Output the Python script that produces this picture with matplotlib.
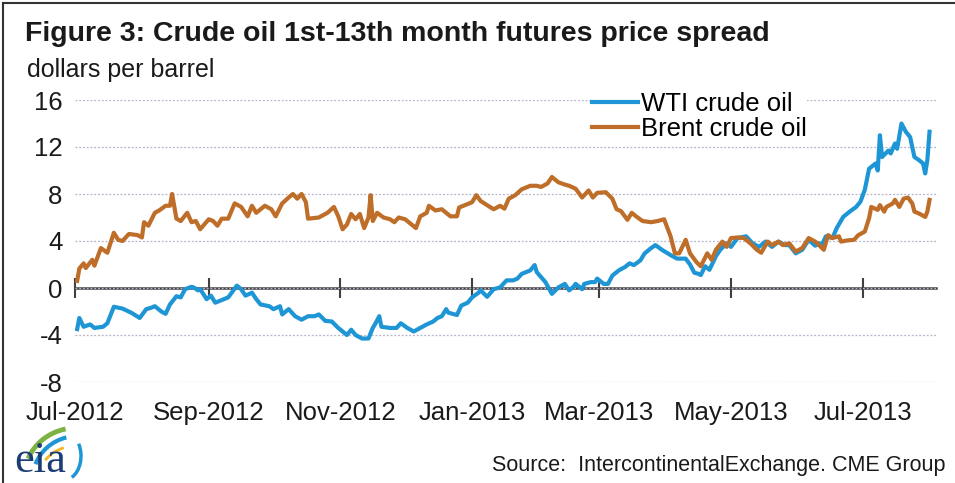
"""
Figure 3: Crude oil 1st-13th month futures price spread (EIA style).
"""

import matplotlib
matplotlib.use("Agg")
import matplotlib.pyplot as plt
import pandas as pd
from matplotlib.lines import Line2D
from matplotlib.patches import Arc


plt.rcParams["font.family"] = ["Liberation Sans", "DejaVu Sans"]
plt.rcParams["axes.unicode_minus"] = False

TITLE = "Figure 3: Crude oil 1st-13th month futures price spread"
UNITS = "dollars per barrel"
SOURCE = "Source:  IntercontinentalExchange. CME Group"

WTI_COLOR = "#1e96d6"
BRENT_COLOR = "#be6e28"

Y_TICKS = [-8, -4, 0, 4, 8, 12, 16]
X_TICKS = ["2012-07-01", "2012-09-01", "2012-11-01", "2013-01-01",
           "2013-03-01", "2013-05-01", "2013-07-01"]
X_LABELS = ["Jul-2012", "Sep-2012", "Nov-2012", "Jan-2013",
            "Mar-2013", "May-2013", "Jul-2013"]

# Brent 1st-13th month spread
brent_dates = [
    "2012-07-02", "2012-07-03", "2012-07-05", "2012-07-06", "2012-07-09", "2012-07-10",
    "2012-07-13", "2012-07-16", "2012-07-19", "2012-07-21", "2012-07-23", "2012-07-26",
    "2012-07-30", "2012-08-01", "2012-08-02", "2012-08-04", "2012-08-07", "2012-08-09",
    "2012-08-12", "2012-08-14", "2012-08-15", "2012-08-17", "2012-08-19", "2012-08-22",
    "2012-08-24", "2012-08-26", "2012-08-28", "2012-09-01", "2012-09-03", "2012-09-05",
    "2012-09-07", "2012-09-10", "2012-09-13", "2012-09-16", "2012-09-19", "2012-09-21",
    "2012-09-23", "2012-09-27", "2012-09-30", "2012-10-02", "2012-10-05", "2012-10-08",
    "2012-10-10", "2012-10-12", "2012-10-14", "2012-10-16", "2012-10-17", "2012-10-22",
    "2012-10-26", "2012-10-29", "2012-10-31", "2012-11-02", "2012-11-04", "2012-11-06",
    "2012-11-08", "2012-11-10", "2012-11-12", "2012-11-14", "2012-11-15", "2012-11-16",
    "2012-11-18", "2012-11-21", "2012-11-24", "2012-11-26", "2012-11-28", "2012-12-01",
    "2012-12-03", "2012-12-06", "2012-12-08", "2012-12-11", "2012-12-12", "2012-12-15",
    "2012-12-18", "2012-12-20", "2012-12-22", "2012-12-25", "2012-12-26", "2012-12-30",
    "2013-01-01", "2013-01-03", "2013-01-05", "2013-01-08", "2013-01-11", "2013-01-14",
    "2013-01-16", "2013-01-18", "2013-01-21", "2013-01-24", "2013-01-28", "2013-01-31",
    "2013-02-02", "2013-02-05", "2013-02-07", "2013-02-10", "2013-02-13", "2013-02-15",
    "2013-02-18", "2013-02-21", "2013-02-24", "2013-02-26", "2013-02-28", "2013-03-04",
    "2013-03-07", "2013-03-09", "2013-03-11", "2013-03-14", "2013-03-16", "2013-03-18",
    "2013-03-21", "2013-03-25", "2013-03-28", "2013-03-31", "2013-04-03", "2013-04-05",
    "2013-04-07", "2013-04-10", "2013-04-12", "2013-04-15", "2013-04-17", "2013-04-20",
    "2013-04-22", "2013-04-24", "2013-04-27", "2013-04-29", "2013-05-01", "2013-05-04",
    "2013-05-07", "2013-05-10", "2013-05-13", "2013-05-15", "2013-05-18", "2013-05-20",
    "2013-05-23", "2013-05-25", "2013-05-28", "2013-05-31", "2013-06-03", "2013-06-06",
    "2013-06-09", "2013-06-10", "2013-06-13", "2013-06-15", "2013-06-17", "2013-06-20",
    "2013-06-21", "2013-06-24", "2013-06-27", "2013-06-29", "2013-07-02", "2013-07-04",
    "2013-07-05", "2013-07-08", "2013-07-09", "2013-07-11", "2013-07-12", "2013-07-15",
    "2013-07-16", "2013-07-18", "2013-07-20", "2013-07-22", "2013-07-24", "2013-07-25",
    "2013-07-27", "2013-07-30", "2013-07-31", "2013-08-01",
]
brent_values = [
    0.6, 1.65, 2.1, 1.7, 2.4, 1.9,
    3.4, 3.0, 4.7, 4.1, 4.0, 4.6,
    4.5, 4.3, 5.6, 5.3, 6.4, 6.6,
    7.0, 7.0, 8.0, 5.9, 5.7, 6.4,
    5.6, 5.7, 5.0, 5.85, 5.7, 5.3,
    5.9, 5.9, 7.2, 6.9, 6.1, 7.0,
    6.4, 7.0, 6.7, 6.1, 7.2, 7.7,
    8.0, 7.6, 8.0, 7.3, 5.9, 6.0,
    6.4, 6.9, 6.1, 5.0, 5.4, 6.3,
    5.85, 6.3, 5.1, 6.0, 7.9, 5.7,
    6.4, 6.0, 5.85, 5.6, 6.0, 5.85,
    5.55, 5.1, 6.1, 6.4, 7.0, 6.6,
    6.7, 6.4, 6.1, 6.1, 6.85, 7.15,
    7.3, 7.9, 7.4, 7.05, 6.7, 7.0,
    6.75, 7.6, 7.9, 8.4, 8.7, 8.7,
    8.6, 8.9, 9.45, 9.0, 8.8, 8.7,
    8.45, 7.7, 8.3, 7.7, 8.1, 8.15,
    7.6, 6.7, 6.55, 5.8, 6.4, 6.1,
    5.7, 5.6, 5.7, 5.85, 4.4, 2.95,
    2.95, 4.1, 2.95, 2.2, 1.85, 2.95,
    2.4, 3.25, 3.95, 3.5, 4.25, 4.3,
    4.25, 3.8, 3.25, 3.0, 3.95, 3.65,
    3.95, 3.65, 3.8, 3.1, 3.4, 4.25,
    3.95, 3.8, 3.25, 4.5, 4.25, 4.4,
    3.95, 4.05, 4.1, 4.5, 4.8, 5.95,
    6.9, 6.65, 7.05, 6.5, 6.9, 7.2,
    7.5, 6.9, 7.6, 7.7, 7.2, 6.5,
    6.35, 6.05, 6.5, 7.5,
]

# WTI 1st-13th month spread
wti_dates = [
    "2012-07-02", "2012-07-03", "2012-07-05", "2012-07-08", "2012-07-10", "2012-07-14",
    "2012-07-16", "2012-07-19", "2012-07-23", "2012-07-27", "2012-07-31", "2012-08-03",
    "2012-08-05", "2012-08-07", "2012-08-10", "2012-08-12", "2012-08-14", "2012-08-17",
    "2012-08-19", "2012-08-21", "2012-08-24", "2012-08-25", "2012-08-27", "2012-08-28",
    "2012-08-31", "2012-09-02", "2012-09-04", "2012-09-08", "2012-09-10", "2012-09-14",
    "2012-09-16", "2012-09-18", "2012-09-21", "2012-09-23", "2012-09-25", "2012-09-29",
    "2012-10-01", "2012-10-04", "2012-10-05", "2012-10-08", "2012-10-11", "2012-10-14",
    "2012-10-17", "2012-10-20", "2012-10-22", "2012-10-25", "2012-10-28", "2012-10-31",
    "2012-11-04", "2012-11-06", "2012-11-08", "2012-11-11", "2012-11-14", "2012-11-16",
    "2012-11-17", "2012-11-19", "2012-11-20", "2012-11-24", "2012-11-27", "2012-11-29",
    "2012-12-02", "2012-12-05", "2012-12-08", "2012-12-11", "2012-12-14", "2012-12-16",
    "2012-12-18", "2012-12-20", "2012-12-21", "2012-12-25", "2012-12-27", "2012-12-30",
    "2013-01-01", "2013-01-04", "2013-01-05", "2013-01-08", "2013-01-11", "2013-01-14",
    "2013-01-17", "2013-01-20", "2013-01-22", "2013-01-24", "2013-01-28", "2013-01-30",
    "2013-01-31", "2013-02-04", "2013-02-07", "2013-02-10", "2013-02-13", "2013-02-15",
    "2013-02-17", "2013-02-18", "2013-02-21", "2013-02-22", "2013-02-25", "2013-02-27",
    "2013-02-28", "2013-03-03", "2013-03-05", "2013-03-07", "2013-03-10", "2013-03-13",
    "2013-03-15", "2013-03-17", "2013-03-20", "2013-03-22", "2013-03-25", "2013-03-27",
    "2013-03-30", "2013-04-03", "2013-04-06", "2013-04-10", "2013-04-12", "2013-04-14",
    "2013-04-16", "2013-04-17", "2013-04-19", "2013-04-21", "2013-04-24", "2013-04-26",
    "2013-04-29", "2013-05-01", "2013-05-04", "2013-05-08", "2013-05-11", "2013-05-14",
    "2013-05-17", "2013-05-20", "2013-05-23", "2013-05-26", "2013-05-28", "2013-05-31",
    "2013-06-03", "2013-06-06", "2013-06-09", "2013-06-11", "2013-06-12", "2013-06-14",
    "2013-06-17", "2013-06-19", "2013-06-22", "2013-06-25", "2013-06-28", "2013-06-30",
    "2013-07-02", "2013-07-04", "2013-07-07", "2013-07-08", "2013-07-09", "2013-07-10",
    "2013-07-13", "2013-07-14", "2013-07-16", "2013-07-17", "2013-07-19", "2013-07-21",
    "2013-07-23", "2013-07-25", "2013-07-27", "2013-07-29", "2013-07-30", "2013-07-31",
    "2013-08-01",
]
wti_values = [
    -3.5, -2.55, -3.3, -3.1, -3.4, -3.3,
    -3.0, -1.6, -1.75, -2.1, -2.55, -1.8,
    -1.7, -1.55, -2.0, -2.2, -1.4, -0.7,
    -0.8, -0.1, 0.1, 0.05, -0.2, -0.1,
    -0.95, -0.65, -1.25, -0.95, -0.8, 0.2,
    -0.1, -0.65, -0.4, -0.95, -1.4, -1.55,
    -1.8, -1.55, -2.25, -1.8, -2.4, -2.7,
    -2.4, -2.4, -2.25, -2.8, -2.85, -3.4,
    -4.0, -3.55, -4.0, -4.3, -4.3, -3.4,
    -3.1, -2.4, -3.3, -3.4, -3.4, -3.0,
    -3.4, -3.7, -3.4, -3.1, -2.85, -2.55,
    -2.4, -1.8, -2.1, -2.3, -1.5, -1.25,
    -0.8, -0.4, -0.2, -0.75, -0.1, 0.05,
    0.65, 0.65, 0.8, 1.2, 1.5, 1.95,
    1.35, 0.5, -0.5, 0.05, 0.35, -0.2,
    0.1, 0.35, -0.1, 0.35, 0.5, 0.5,
    0.8, 0.35, 0.35, 1.05, 1.5, 1.8,
    2.1, 1.95, 2.35, 2.95, 3.4, 3.65,
    3.25, 2.8, 2.5, 2.5, 2.0, 1.3,
    1.2, 1.1, 1.85, 1.55, 2.7, 3.25,
    3.8, 3.5, 4.25, 4.4, 3.8, 3.5,
    3.95, 3.5, 3.95, 3.65, 3.65, 2.95,
    3.25, 4.1, 3.6, 3.8, 3.65, 4.4,
    4.25, 5.1, 6.05, 6.5, 6.9, 7.35,
    8.35, 10.15, 10.6, 10.0, 13.0, 11.15,
    11.7, 11.45, 12.3, 11.85, 14.0, 13.3,
    12.85, 11.15, 10.9, 10.6, 9.75, 10.9,
    13.3,
]


def px(x, y, w=0, h=0, fig_w=955, fig_h=483):
    """Convert a top-left pixel box to figure fractions."""
    return [x / fig_w, 1 - (y + h) / fig_h, w / fig_w, h / fig_h]


fig = plt.figure(figsize=(9.55, 4.83), dpi=100)
fig.patch.set_facecolor("white")

ax = fig.add_axes(px(75, 100, 861, 282))
ax.set_ylim(-8, 16)
ax.set_xlim(pd.Timestamp("2012-07-01"), pd.Timestamp("2013-08-04"))

ax.plot(pd.to_datetime(wti_dates), wti_values, color=WTI_COLOR, lw=3,
        solid_joinstyle="round", label="WTI crude oil", zorder=3)
ax.plot(pd.to_datetime(brent_dates), brent_values, color=BRENT_COLOR, lw=3,
        solid_joinstyle="round", label="Brent crude oil", zorder=4)

for side in ["top", "right", "left", "bottom"]:
    ax.spines[side].set_visible(False)

ax.set_yticks(Y_TICKS)
ax.set_yticklabels([str(v) for v in Y_TICKS])
ax.tick_params(axis="y", length=0, pad=9, labelsize=18.5, labelcolor="#1a1a1a")
ax.yaxis.grid(True, linestyle=(0, (1.5, 1.5)), color="#b4b4cc", lw=0.9)
ax.set_axisbelow(True)

tick_dates = pd.to_datetime(X_TICKS)
ax.set_xticks(tick_dates)
ax.set_xticklabels(X_LABELS)
ax.tick_params(axis="x", length=0, pad=14, labelsize=18.5, labelcolor="#1a1a1a")

# zero line with the month ticks crossing it
zero = ax.secondary_xaxis(8 / 24)
zero.set_xticks(tick_dates)
zero.tick_params(axis="x", direction="inout", length=14, width=1.5,
                 color="#404040", labelbottom=False)
zero.spines["bottom"].set_color("#404040")
zero.spines["bottom"].set_linewidth(1.8)

leg = ax.legend(loc="upper left", bbox_to_anchor=(592 / 955, 1 - 92 / 483),
                bbox_transform=fig.transFigure, frameon=True, fontsize=18.5,
                handlelength=1.8, handletextpad=0.1, labelspacing=0.05,
                borderpad=0.0, borderaxespad=0.0)
leg.get_frame().set_facecolor("white")
leg.get_frame().set_edgecolor("none")
leg.get_frame().set_alpha(1)

fig.text(25 / 955, 1 - 34 / 483, TITLE, fontsize=20.5, fontweight="bold",
         color="#1a1a1a", va="center", ha="left")
fig.text(27 / 955, 1 - 70 / 483, UNITS, fontsize=18, color="#1a1a1a",
         va="center", ha="left")
fig.text(945 / 955, 1 - 466 / 483, SOURCE, fontsize=15.5, color="#1a1a1a",
         va="center", ha="right")

# eia logo
logo = fig.add_axes(px(10, 418, 70, 64))
logo.set_xlim(0, 70)
logo.set_ylim(0, 64)
logo.axis("off")
logo.text(4, 1, "eia", fontsize=32, color="#1b3d73", family="Liberation Serif",
          ha="left", va="bottom")
swooshes = [
    Arc((66, 4), 104, 100, theta1=102, theta2=158, color="#7cb342", lw=3.5),
    Arc((68, 4), 90, 84, theta1=106, theta2=162, color="#1e96d6", lw=3),
    Arc((66, 4), 74, 64, theta1=112, theta2=150, color="#f2b824", lw=2),
    Arc((54, 26), 34, 48, theta1=-70, theta2=40, color="#1e96d6", lw=2.5),
]
for arc in swooshes:
    arc.set_clip_on(False)
    logo.add_patch(arc)

# frame lines along the top and left edges
fig.add_artist(Line2D([3 / 955, 1], [1 - 3 / 483, 1 - 3 / 483],
                      transform=fig.transFigure, color="#333333", lw=1.5))
fig.add_artist(Line2D([3 / 955, 3 / 955], [0, 1 - 3 / 483],
                      transform=fig.transFigure, color="#333333", lw=1.5))

fig.savefig("out.png", dpi=100)
